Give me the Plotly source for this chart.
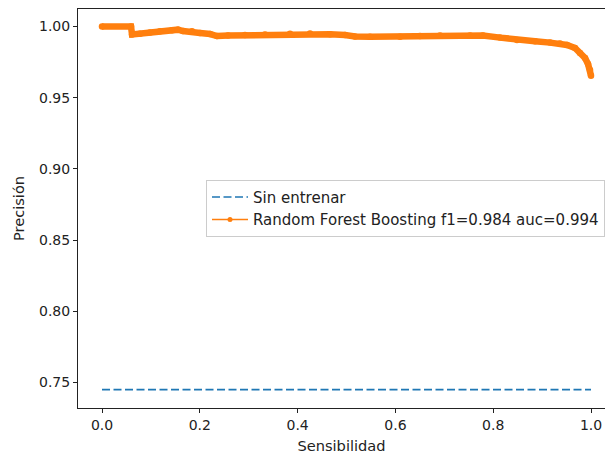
import plotly.graph_objects as go

# Precision-recall data
recall = [0.0, 0.0593, 0.0614, 0.0777, 0.0982, 0.1186, 0.1431, 0.1554, 0.1656,
          0.1840, 0.2004, 0.2209, 0.2352, 0.2577, 0.2924, 0.3333, 0.3845, 0.4254,
          0.4663, 0.4969, 0.5174, 0.5481, 0.6094, 0.6503, 0.6912, 0.7526, 0.7790,
          0.8140, 0.8487, 0.8855, 0.9162, 0.9366, 0.9509, 0.9673, 0.9775, 0.9877,
          0.9939, 0.9980, 1.0]
precision = [1.0, 1.0, 0.9944, 0.9950, 0.9958, 0.9966, 0.9974, 0.9978, 0.9968,
             0.9966, 0.9954, 0.9947, 0.9933, 0.9937, 0.9940, 0.9944, 0.9949, 0.9951,
             0.9945, 0.9940, 0.9930, 0.9928, 0.9928, 0.9934, 0.9937, 0.9937, 0.9937,
             0.9922, 0.9906, 0.9897, 0.9887, 0.9881, 0.9870, 0.9849, 0.9814, 0.9779,
             0.9737, 0.9695, 0.9655]

baseline_recall = [0.0, 1.0]
baseline_precision = [0.745, 0.745]

model_label = "Random Forest Boosting f1=0.984 auc=0.994"

BLUE = "#1f77b4"
ORANGE = "#ff7f0e"
FONT = "DejaVu Sans"
INK = "#222222"

fig = go.Figure()

fig.add_trace(go.Scatter(
    x=baseline_recall, y=baseline_precision, mode="lines",
    name="Sin entrenar",
    line=dict(color=BLUE, width=1.6, dash="8px,3.5px"),
))

# dense marker band of the curve
fig.add_trace(go.Scatter(
    x=recall, y=precision, mode="lines+markers",
    line=dict(color=ORANGE, width=6.5),
    marker=dict(color=ORANGE, size=6.5),
    showlegend=False, hoverinfo="x+y",
))

# legend entry for the curve
fig.add_trace(go.Scatter(
    x=[None], y=[None], mode="lines+markers",
    name=model_label,
    line=dict(color=ORANGE, width=1.6),
    marker=dict(color=ORANGE, size=5),
))

axis_common = dict(
    showgrid=False, zeroline=False, showline=True, linecolor=INK,
    linewidth=1, ticks="outside", ticklen=4, tickcolor=INK,
    tickfont=dict(family=FONT, size=14, color=INK),
)

fig.update_layout(
    width=605, height=456,
    margin=dict(l=78, r=0, t=9, b=48),
    paper_bgcolor="white", plot_bgcolor="white",
    font=dict(family=FONT, size=14, color=INK),
    xaxis=dict(
        range=[-0.0491, 1.0286], tickvals=[0, 0.2, 0.4, 0.6, 0.8, 1.0],
        ticktext=["0.0", "0.2", "0.4", "0.6", "0.8", "1.0"], mirror=True,
        title=dict(text="Sensibilidad", standoff=8,
                   font=dict(family=FONT, size=14.6, color=INK)),
        **axis_common,
    ),
    yaxis=dict(
        range=[0.7321, 1.0123], tickvals=[0.75, 0.80, 0.85, 0.90, 0.95, 1.00],
        ticktext=["0.75", "0.80", "0.85", "0.90", "0.95", "1.00"],
        title=dict(text="Precisión", standoff=10,
                   font=dict(family=FONT, size=14.6, color=INK)),
        **axis_common,
    ),
    legend=dict(
        x=0.243, y=0.572, xanchor="left", yanchor="top",
        bgcolor="rgba(255,255,255,0.8)", bordercolor="#cccccc", borderwidth=1,
        font=dict(family=FONT, size=15, color=INK),
        tracegroupgap=0, itemwidth=36,
    ),
    showlegend=True,
)

fig.write_html("out.html")
